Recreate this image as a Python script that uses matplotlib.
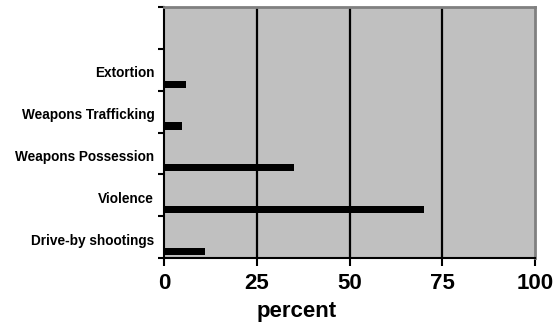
import matplotlib
matplotlib.use("Agg")
import matplotlib.pyplot as plt
import numpy as np

plt.rcParams['font.family'] = ['Liberation Sans', 'DejaVu Sans']

# Offence categories, bottom to top; the top slot is left empty
categories = ["Drive-by shootings", "Violence", "Weapons Possession",
              "Weapons Trafficking", "Extortion", ""]
percent_values = [11, 70, 35, 4.8, 5.8, 0]
x_ticks = [0, 25, 50, 75, 100]

fig = plt.figure(figsize=(5.55, 3.26), dpi=100)
W, H = 555, 326
ax = fig.add_axes([164 / W, 1 - 258 / H, (535 - 164) / W, (258 - 7) / H])
ax.set_facecolor("#C0C0C0")

n = len(categories)
pos = np.arange(n)
bar_h = 0.17
ax.barh(pos + 0.07 + bar_h / 2, percent_values, height=bar_h,
        color="black", zorder=3)

ax.set_xlim(0, 100)
ax.set_ylim(0, n)

# vertical gridlines
for v in x_ticks[1:-1]:
    ax.axvline(v, color="black", lw=1.6, zorder=2)

ax.set_xticks(x_ticks)
ax.set_xticklabels([str(t) for t in x_ticks], fontsize=16, fontweight="bold")
ax.tick_params(axis="x", direction="out", length=6, width=1.5, pad=5)

# category labels sit between the tick marks
ax.set_yticks(np.arange(n + 1), minor=True)
ax.set_yticks(pos + 0.45)
ax.set_yticklabels(categories, fontsize=9.8, fontweight="bold")
ax.tick_params(axis="y", which="major", length=0, pad=7)
ax.tick_params(axis="y", which="minor", direction="out", length=4, width=1.5)

for side in ("left", "bottom"):
    ax.spines[side].set_color("black")
    ax.spines[side].set_linewidth(1.5)
for side in ("top", "right"):
    ax.spines[side].set_color("#808080")
    ax.spines[side].set_linewidth(2)

xl = fig.text(297 / W, 1 - 311 / H, "percent", ha="center", va="center",
              fontsize=16, fontweight="bold")

fig.savefig("out.png", dpi=100)
